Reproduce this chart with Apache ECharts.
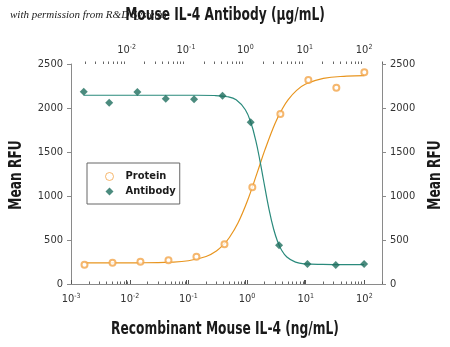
<!DOCTYPE html>
<html><head><meta charset="utf-8">
<script src="https://cdn.jsdelivr.net/npm/echarts@6/dist/echarts.min.js"></script>
<style>html,body{margin:0;padding:0;background:#fff}#c{width:450px;height:347px}</style>
</head><body><div id="c"></div><script>
// Measured points
const proteinX = [0.00169, 0.00508, 0.0152, 0.0457, 0.137, 0.412, 1.23, 3.70, 11.1, 33.3, 100];
const proteinY = [219, 242, 253, 269, 310, 451, 1099, 1932, 2318, 2231, 2406];
const antibodyX = [0.0019, 0.0051, 0.0152, 0.0457, 0.137, 0.412, 1.23, 3.70, 11.1, 33.3, 100];
const antibodyY = [2185, 2060, 2182, 2106, 2099, 2140, 1838, 440, 227, 216, 227];
// Fitted curves
const proteinCurveX = [0.0017, 0.005, 0.015, 0.05, 0.1, 0.2, 0.3, 0.4, 0.5, 0.7, 1, 1.5, 2, 3, 4, 5, 7, 10, 20, 50, 100];
const proteinCurveY = [240, 240, 241, 248, 264, 312, 376, 450, 528, 693, 934, 1271, 1518, 1825, 1992, 2093, 2200, 2272, 2337, 2362, 2368];
const antibodyCurveX = [0.0019, 0.005, 0.015, 0.05, 0.15, 0.3, 0.5, 0.7, 1, 1.25, 1.5, 1.75, 2, 2.5, 3, 3.5, 4, 5, 7, 10, 20, 50, 100];
const antibodyCurveY = [2145, 2145, 2145, 2145, 2145, 2142, 2128, 2093, 1980, 1826, 1628, 1411, 1199, 851, 622, 481, 395, 307, 249, 229, 222, 220, 220];
// Tick labels
const bottomDecades = [0.001, 0.01, 0.1, 1, 10, 100];
const topDecades = [0.01, 0.1, 1, 10, 100];

const minorOf = (decs) => { const out = []; decs.forEach(d => { for (let k = 2; k <= 9; k++) out.push(+(d * k).toPrecision(3)); }); return out; };
const bottomMinor = minorOf([0.001, 0.01, 0.1, 1, 10, 100]);
const topMinor = minorOf([0.001, 0.01, 0.1, 1, 10, 100]);

const FONT = '"DejaVu Sans Condensed", "Liberation Sans Narrow", "Noto Sans", sans-serif';
const fmt = v => { const e = Math.round(Math.log10(v)); return '{b|10}{s|' + String(e) + '}'; };
const rich = { b: {fontFamily: FONT, fontSize: 11, color: '#333', lineHeight: 13}, s: {fontFamily: FONT, fontSize: 7, color: '#333', lineHeight: 7, verticalAlign: 'top'} };

const AX = '#8a8a8a';
const bottomRange = {min: 0.000995, max: 200};
const topRange = {min: 0.00116, max: 200};
const TITLE = 'bold 17px ' + FONT;
const ORANGE_PT = '#F2A54A', TEAL_PT = '#1E6E5E';

const chart = echarts.init(document.getElementById('c'));
chart.setOption({
  backgroundColor: '#fff',
  animation: false,
  textStyle: {fontFamily: FONT},
  grid: {left: 71, top: 64, width: 311, height: 220, containLabel: false},
  graphic: [
    {type: 'text', x: 10, y: 10, z: 1, style: {text: 'with permission from R&D Systems', font: 'italic 11px "Liberation Serif", "DejaVu Serif", serif', fill: '#222'}},
    {type: 'text', x: 225, y: 7, z: 10, scaleX: 0.8, style: {text: 'Mouse IL-4 Antibody (µg/mL)', font: TITLE, fill: '#1a1a1a', align: 'center'}},
    {type: 'text', x: 225, y: 321, scaleX: 0.8, style: {text: 'Recombinant Mouse IL-4 (ng/mL)', font: TITLE, fill: '#1a1a1a', align: 'center'}},
    {type: 'text', x: 8, y: 175, rotation: Math.PI / 2, scaleX: 0.8, style: {text: 'Mean RFU', font: TITLE, fill: '#1a1a1a', align: 'center', verticalAlign: 'top'}},
    {type: 'text', x: 427, y: 175, rotation: Math.PI / 2, scaleX: 0.8, style: {text: 'Mean RFU', font: TITLE, fill: '#1a1a1a', align: 'center', verticalAlign: 'top'}}
  ],
  legend: {
    left: 87, top: 163, orient: 'vertical',
    padding: [8, 4, 7, 18], itemGap: 4, itemWidth: 8, itemHeight: 8,
    borderColor: '#666', borderWidth: 1, borderRadius: 0,
    textStyle: {fontFamily: FONT, fontSize: 11, fontWeight: 'bold', color: '#1a1a1a', padding: [0, 0, 0, 7]},
    data: [
      {name: 'Protein', icon: 'circle', itemStyle: {color: '#ffffff', borderColor: ORANGE_PT, borderWidth: 1}},
      {name: 'Antibody', icon: 'diamond', itemStyle: {color: TEAL_PT, borderWidth: 0}}
    ]
  },
  xAxis: [
    {type: 'log', logBase: 10, position: 'bottom', ...bottomRange,
     axisLine: {lineStyle: {color: AX, width: 1}}, splitLine: {show: false},
     axisTick: {inside: true, length: 4, lineStyle: {color: '#555'}, customValues: bottomDecades},
     axisLabel: {customValues: bottomDecades, formatter: fmt, rich: rich, margin: 9}},
    {type: 'log', logBase: 10, position: 'top', ...topRange,
     axisLine: {lineStyle: {color: AX, width: 1}}, splitLine: {show: false},
     axisTick: {inside: false, length: 4, lineStyle: {color: '#555'}, customValues: topDecades},
     axisLabel: {customValues: topDecades, formatter: fmt, rich: rich, margin: 7}},
    {type: 'log', logBase: 10, position: 'bottom', ...bottomRange,
     axisLine: {show: false}, splitLine: {show: false}, axisLabel: {show: false},
     axisTick: {inside: true, length: 2.5, lineStyle: {color: '#666'}, customValues: bottomMinor}},
    {type: 'log', logBase: 10, position: 'top', ...topRange,
     axisLine: {show: false}, splitLine: {show: false}, axisLabel: {show: false},
     axisTick: {inside: false, length: 2.5, lineStyle: {color: '#666'}, customValues: topMinor}}
  ],
  yAxis: [
    {type: 'value', position: 'left', min: 0, max: 2500, interval: 500,
     axisLine: {show: true, lineStyle: {color: AX}}, splitLine: {show: false},
     axisTick: {show: true, length: 4, lineStyle: {color: AX}},
     axisLabel: {color: '#333', fontSize: 11, fontFamily: FONT, margin: 8, formatter: v => String(v)}},
    {type: 'value', position: 'right', min: 0, max: 2500, interval: 500,
     axisLine: {show: true, lineStyle: {color: AX}}, splitLine: {show: false},
     axisTick: {show: true, length: 4, lineStyle: {color: AX}},
     axisLabel: {color: '#333', fontSize: 11, fontFamily: FONT, margin: 8, formatter: v => String(v)}}
  ],
  series: [
    {name: 'Protein', type: 'scatter', xAxisIndex: 0, yAxisIndex: 0, symbol: 'emptyCircle', symbolSize: 6,
     itemStyle: {color: ORANGE_PT, borderColor: ORANGE_PT, borderWidth: 0.8}, z: 5,
     data: proteinX.map((x, i) => [x, proteinY[i]])},
    {name: 'Antibody', type: 'scatter', xAxisIndex: 1, yAxisIndex: 0, symbol: 'diamond', symbolSize: 8,
     itemStyle: {color: TEAL_PT}, z: 5,
     data: antibodyX.map((x, i) => [x, antibodyY[i]])},
    {name: 'proteinFit', type: 'line', xAxisIndex: 0, yAxisIndex: 0, smooth: 0.4, showSymbol: false, symbol: 'none',
     lineStyle: {color: '#E8951F', width: 1.2}, z: 3,
     data: proteinCurveX.map((x, i) => [x, proteinCurveY[i]])},
    {name: 'antibodyFit', type: 'line', xAxisIndex: 1, yAxisIndex: 0, smooth: 0.4, showSymbol: false, symbol: 'none',
     lineStyle: {color: '#2A8A7C', width: 1.2}, z: 3,
     data: antibodyCurveX.map((x, i) => [x, antibodyCurveY[i]])}
  ]
});
</script></body></html>
